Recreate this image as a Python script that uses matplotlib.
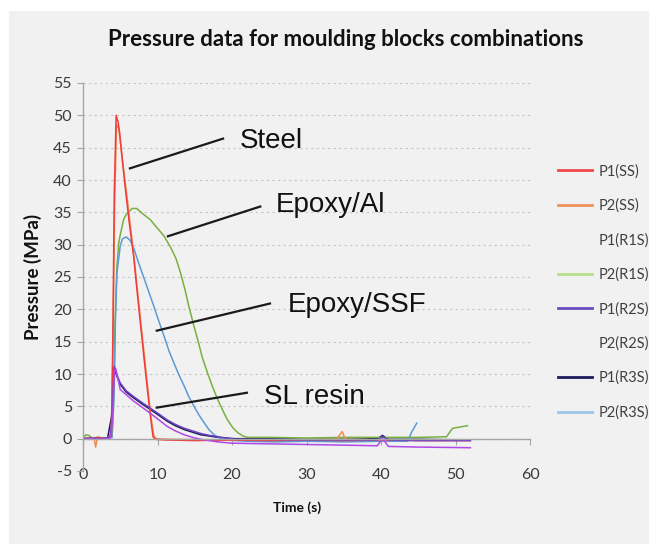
import matplotlib.pyplot as plt
from matplotlib.lines import Line2D
from matplotlib.patches import Rectangle

plt.rcParams['axes.unicode_minus'] = False

# pressure traces, time in s, pressure in MPa
t_p1_ss = [0, 1, 2, 3, 3.8, 4.0, 4.2, 4.45, 4.7, 4.9, 5.2, 5.7, 6.2, 6.8, 7.2, 7.7, 8.1, 8.4, 8.7,
           9.05, 9.4, 9.7, 11, 15, 20, 25, 30, 35, 40, 45, 52]
p_p1_ss = [0.1, 0.0, 0.2, 0.0, 0.3, 15, 38, 50, 49, 47.5, 44, 38.5, 33.5, 28.2, 23.5, 17.9, 13.5, 10.2, 7,
           3.5, 0.3, -0.1, -0.2, -0.3, -0.2, -0.3, -0.2, -0.3, -0.2, -0.3, -0.3]

t_p2_ss = [0, 1, 1.5, 1.7, 1.9, 2.5, 3, 3.8, 4.0, 4.25, 4.5, 4.8, 5.3, 5.9, 6.9, 7.8, 8.5, 9.1, 9.5,
           9.8, 12, 20, 30, 34, 34.8, 35.2, 40, 45, 52]
p_p2_ss = [0.0, 0.1, 0.0, -1.3, 0.0, 0.1, 0.0, 0.2, 12, 36, 48.5, 48, 43, 37.5, 27.5, 17.5, 10, 3.5, 0.5,
           0.0, -0.1, -0.2, -0.2, -0.1, 1.1, -0.1, -0.2, -0.2, -0.2]

t_p2_r1s = [0, 0.4, 0.8, 1.2, 2, 3, 3.9, 4.1, 4.3, 4.55, 4.8, 5.0, 5.45, 5.8, 6.6, 7.2, 8.1, 9.0, 9.95,
            10.9, 11.8, 12.5, 13.1, 13.7, 14.2, 14.8, 15.4, 16.0, 16.7, 17.4, 18.1, 19.0, 19.4, 20.1,
            20.8, 21.5, 22.1, 25, 30, 35, 40, 45, 48.8, 49.6, 51.6]
p_p2_r1s = [0.2, 0.6, 0.5, 0.1, 0.2, 0.1, 0.3, 5, 17.9, 26.5, 30.3, 31.5, 33.9, 34.7, 35.6, 35.6, 34.7,
            33.9, 32.6, 31.3, 29.5, 27.8, 25.6, 23, 20.5, 17.8, 15.3, 12.6, 10.2, 8, 6.0, 3.8, 2.9, 1.7,
            0.9, 0.4, 0.2, 0.2, 0.1, 0.2, 0.2, 0.2, 0.3, 1.6, 2.0]

t_p2_r3s = [0, 1, 2, 3, 3.9, 4.2, 4.35, 4.55, 5.0, 5.3, 5.8, 6.3, 6.8, 7.4, 8.1, 8.8, 9.5, 10.2, 10.9,
            11.5, 12.2, 12.9, 13.6, 14.2, 14.9, 15.6, 16.3, 16.9, 17.6, 18.3, 19, 22, 26, 30, 35, 40,
            43.6, 44.1, 44.8]
p_p2_r3s = [0.0, 0.1, 0.0, 0.1, 0.2, 8, 18, 25.6, 29.8, 30.9, 31.2, 30.7, 29.5, 27.4, 25.1, 22.8, 20.5,
            18.1, 15.8, 13.7, 11.7, 9.8, 8.1, 6.5, 5.0, 3.6, 2.4, 1.4, 0.6, 0.1, -0.2, -0.4, -0.5, -0.4,
            -0.5, -0.4, -0.4, 1.0, 2.4]

t_p1_r3s = [0, 1, 2, 3, 3.3, 3.8, 4.0, 4.2, 4.5, 5.0, 5.8, 6.8, 7.9, 9.05, 10.2, 11.3, 12.4, 13.6, 14.7,
            15.8, 17, 18.1, 20.3, 25, 30, 35, 39.5, 40.2, 41, 45, 51.6]
p_p1_r3s = [0.0, -0.1, 0.0, 0.0, 0.1, 3.2, 5, 10.8, 9.8, 8.4, 7.2, 6.3, 5.4, 4.5, 3.6, 2.7, 2.0, 1.4, 1.0,
            0.6, 0.4, 0.2, 0.0, 0.0, -0.1, -0.1, 0.0, 0.5, -0.1, -0.1, -0.2]

t_p1_r2s = [0, 1, 2, 3, 3.6, 3.9, 4.1, 4.2, 4.5, 5.0, 5.8, 6.8, 7.9, 9.05, 10.2, 11.3, 12.4, 13.6, 14.7,
            15.8, 17, 18.1, 20.3, 25, 30, 35, 39.5, 40.2, 41, 45, 52]
p_p1_r2s = [0.0, 0.1, 0.0, 0.1, 0.2, 3, 9, 11.2, 10, 8.6, 7.4, 6.5, 5.6, 4.7, 3.8, 2.9, 2.2, 1.6, 1.2,
            0.8, 0.5, 0.3, -0.1, -0.1, -0.2, -0.2, -0.2, 0.3, -0.2, -0.3, -0.3]

t_p2_r2s = [0, 1, 2, 3, 3.7, 4.0, 4.2, 4.4, 5.0, 5.8, 6.8, 7.9, 9.05, 10.2, 11.3, 12.4, 13.6, 14.7, 15.8,
            17, 18.1, 20, 25, 30, 35, 39.5, 40.2, 41, 45, 52]
p_p2_r2s = [-0.1, 0.0, -0.1, 0.0, 0.1, 4, 10.5, 10.8, 7.6, 6.8, 5.8, 4.9, 3.9, 2.9, 1.9, 1.2, 0.6, 0.2,
            -0.1, -0.3, -0.5, -0.7, -0.8, -0.9, -1.0, -1.1, 0.0, -1.2, -1.3, -1.4]

legend_labels = ['P1(SS)', 'P2(SS)', 'P1(R1S)', 'P2(R1S)', 'P1(R2S)', 'P2(R2S)', 'P1(R3S)', 'P2(R3S)']
legend_colors = ['#f04848', '#f0905a', 'none', '#b6df8a', '#6a4cc0', 'none', '#1c1c5c', '#9cc5ea']

fig = plt.figure(figsize=(6.49, 5.44), dpi=100)
fig.patches.append(Rectangle((9 / 649, 0), 1, (544 - 11) / 544, transform=fig.transFigure,
                             facecolor='#f1f1f1', edgecolor='none', zorder=-10))

ax = fig.add_axes([83 / 649, (544 - 471) / 544, (530 - 83) / 649, (471 - 83) / 544])
ax.set_facecolor('none')

lw = 1.1
ax.plot(t_p1_r3s, p_p1_r3s, color='#1c1c5c', lw=lw)
ax.plot(t_p2_r1s, p_p2_r1s, color='#78b040', lw=lw)
ax.plot(t_p2_r3s, p_p2_r3s, color='#5b9bd5', lw=lw)
ax.plot(t_p2_ss, p_p2_ss, color='#f28a4c', lw=lw)
ax.plot(t_p1_ss, p_p1_ss, color='#f03c3c', lw=lw)
ax.plot(t_p1_r2s, p_p1_r2s, color='#6a3fc0', lw=lw)
ax.plot(t_p2_r2s, p_p2_r2s, color='#b048e8', lw=lw)

ax.set_xlim(0, 60)
ax.set_ylim(-5, 55)
ax.set_xticks(range(0, 61, 10))
ax.set_yticks(range(-5, 56, 5))

for s in ['top', 'right']:
    ax.spines[s].set_visible(False)
ax.spines['bottom'].set_position(('data', 0))
for s in ['left', 'bottom']:
    ax.spines[s].set_color('#a6a6a6')
    ax.spines[s].set_linewidth(1)

ax.yaxis.grid(True, linestyle=(0, (2, 3)), color='#c4c4c4', lw=0.8)
ax.set_axisbelow(True)

ax.tick_params(axis='both', direction='out', length=4, color='#a6a6a6', labelsize=11.5,
               labelcolor='#3a3a3a')
ax.tick_params(axis='x', pad=17)
ax.tick_params(axis='y', pad=4)
for lab in ax.get_xticklabels() + ax.get_yticklabels():
    lab.set_family('Lato')

# callout labels for each mould material
callouts = [
    ('Steel', (6.3, 41.8), (18.8, 46.4), (21.1, 46.0)),
    ('Epoxy/Al', (11.4, 31.3), (23.8, 35.9), (25.9, 36.1)),
    ('Epoxy/SSF', (9.9, 16.7), (25.1, 20.9), (27.5, 20.7)),
    ('SL resin', (9.9, 4.8), (22.0, 7.1), (24.3, 6.5)),
]
for name, p0, p1, tp in callouts:
    ax.plot([p0[0], p1[0]], [p0[1], p1[1]], color='#1a1a1a', lw=1.6)
    ax.text(tp[0], tp[1], name, family='Liberation Sans', fontsize=20, color='#111111',
            ha='left', va='center')

fig.text(345.5 / 649, 1 - 40 / 544, 'Pressure data for moulding blocks combinations',
         family='Lato', weight='bold', fontsize=16, ha='center', va='center', color='#111111')
fig.text(33 / 649, 1 - 277 / 544, 'Pressure (MPa)', family='Lato', weight='bold', fontsize=13.5,
         rotation=90, ha='center', va='center', color='#111111')
fig.text(297 / 649, 1 - 508 / 544, 'Time (s)', family='Lato', weight='bold', fontsize=10,
         ha='center', va='center', color='#111111')

handles = [Line2D([], [], color=c, lw=2) for c in legend_colors]
leg = fig.legend(handles, legend_labels, loc='upper left', bbox_to_anchor=(558 / 649, 1 - 164 / 544),
                 frameon=False, handlelength=2.3, handletextpad=0.5,
                 labelspacing=1.38, borderpad=0, borderaxespad=0,
                 prop={'family': 'Lato', 'size': 10.5})
for txt in leg.get_texts():
    txt.set_color('#404040')

fig.savefig('out.png', dpi=100)
